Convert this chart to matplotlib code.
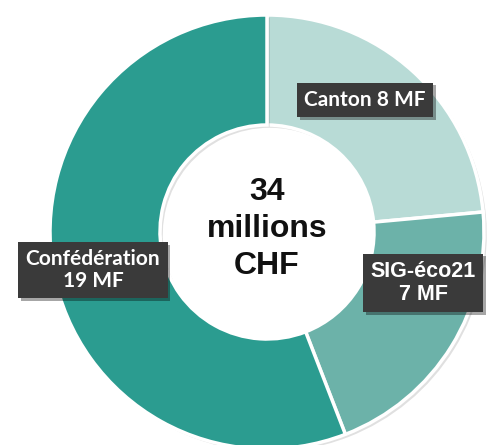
import matplotlib
matplotlib.use("Agg")
import matplotlib.pyplot as plt
import matplotlib.patheffects as pe

# Data
labels = ["Canton", "SIG-éco21", "Confédération"]
amounts = [8, 7, 19]  # millions de francs
colors = ["#b8dbd6", "#6cb2a9", "#2b9c90"]
total_text = "34\nmillions\nCHF"

# Figure in pixel units
W, H = 490, 445
fig = plt.figure(figsize=(W / 100, H / 100), dpi=100)
ax = fig.add_axes([0, 0, 1, 1])

cx, cy, R = 267, H - 232, 217

wedges, _ = ax.pie(
    amounts,
    colors=colors,
    startangle=90,
    counterclock=False,
    center=(cx, cy),
    radius=R,
    frame=True,
    wedgeprops=dict(width=110, edgecolor="white", linewidth=2.5),
)
for w in wedges:
    w.set_path_effects([pe.SimplePatchShadow(offset=(2, -2), alpha=0.12, shadow_rgbFace="black"),
                        pe.Normal()])
ax.set_xlim(0, W)
ax.set_ylim(0, H)
ax.set_aspect("equal")
ax.axis("off")

# Centre text
ax.text(cx, H - 229, total_text, ha="center", va="center", fontsize=23,
        fontweight="bold", family="Liberation Sans", linespacing=1.3, color="#111111")

# Dark label boxes
box = dict(boxstyle="square,pad=0.35", facecolor="#3a3a3a", edgecolor="none")
label_specs = [
    (f"{labels[0]} {amounts[0]} MF", 365, H - 100, "Lato", 15),
    (f"{labels[1]}\n{amounts[1]} MF", 423, H - 283, "Liberation Sans", 15.5),
    (f"{labels[2]}\n{amounts[2]} MF", 93, H - 270, "Lato", 15),
]
for txt, x, y, fam, fs in label_specs:
    t = ax.text(x, y, txt, ha="center", va="center", color="white", fontsize=fs,
                fontweight="bold", family=fam, linespacing=1.1, bbox=box)
    t.get_bbox_patch().set_path_effects([
        pe.SimplePatchShadow(offset=(2, -2), alpha=0.35, shadow_rgbFace="black"),
        pe.Normal()])

fig.savefig("out.png", dpi=100)
